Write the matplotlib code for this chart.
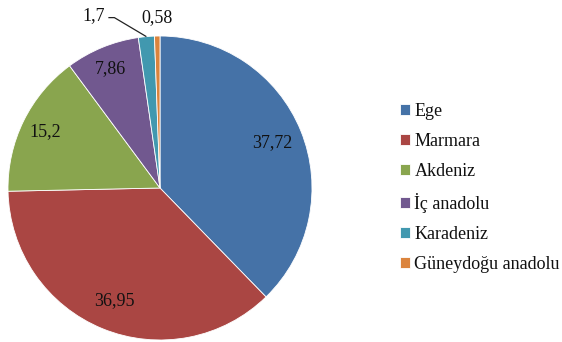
import numpy as np
import matplotlib
matplotlib.use("Agg")
import matplotlib.pyplot as plt

regions = ["Ege", "Marmara", "Akdeniz", "İç anadolu", "Karadeniz", "Güneydoğu anadolu"]
shares = [37.72, 36.95, 15.2, 7.86, 1.7, 0.58]
share_labels = ["37,72", "36,95", "15,2", "7,86", "1,7", "0,58"]
colors = ["#4572A7", "#AA4643", "#89A54E", "#71588F", "#4198AF", "#DB843D"]

serif = ["Liberation Serif", "DejaVu Serif"]
plt.rcParams["font.family"] = serif

W, H = 562, 342
fig = plt.figure(figsize=(W / 100, H / 100), dpi=100)
ax = fig.add_axes([0, 0, 1, 1])

cx, cy, R = 160, H - 188, 152
wedges, _ = ax.pie(shares, colors=colors, startangle=90, counterclock=False,
                   center=(cx, cy), radius=R,
                   wedgeprops=dict(edgecolor="white", linewidth=0.6))
ax.set_xlim(0, W)
ax.set_ylim(0, H)
ax.set_aspect("equal")
ax.axis("off")

fs = 13
txt = dict(fontsize=fs, color="#111111", family=serif)
inner_r = [0.80, 0.80, 0.84, 0.85]
for i, w in enumerate(wedges):
    mid = np.deg2rad((w.theta1 + w.theta2) / 2)
    ux, uy = np.cos(mid), np.sin(mid)
    if i < 4:
        ax.text(cx + inner_r[i] * R * ux, cy + inner_r[i] * R * uy, share_labels[i],
                ha="center", va="center", **txt)
    elif i == 4:
        ex, ey = cx + R * ux, cy + R * uy
        elbow = (ex - 32, ey + 19)
        start = (elbow[0] - 6, elbow[1])
        ax.plot([ex, elbow[0], start[0]], [ey, elbow[1], start[1]],
                color="#222222", linewidth=0.9, solid_capstyle="butt")
        ax.text(start[0] - 3, start[1] + 2, share_labels[i],
                ha="right", va="center", **txt)
    else:
        ax.text(cx + 1.12 * R * ux, cy + 1.12 * R * uy, share_labels[i],
                ha="center", va="center", **txt)

leg = ax.legend(wedges, regions, loc="center left",
                bbox_to_anchor=(400 / W, 1 - 188 / H), bbox_transform=fig.transFigure,
                frameon=False, prop=dict(family=serif, size=fs),
                handlelength=0.55, handleheight=0.55,
                handletextpad=0.25, labelspacing=0.72, borderpad=0, borderaxespad=0)
for t in leg.get_texts():
    t.set_color("#111111")

fig.savefig("out.png", dpi=100)
